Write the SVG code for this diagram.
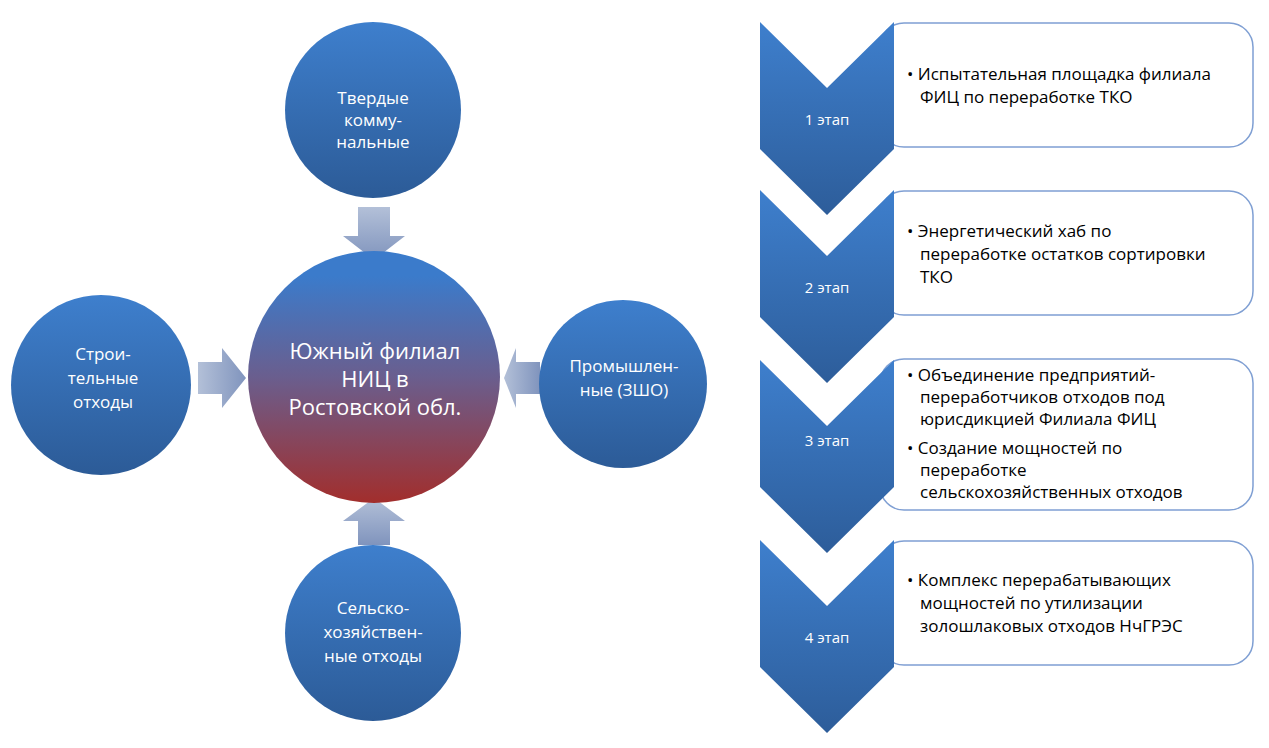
<svg xmlns="http://www.w3.org/2000/svg" width="1269" height="748" viewBox="0 0 1269 748">
<defs>
<linearGradient id="gb" x1="0" y1="0" x2="0" y2="1"><stop offset="0" stop-color="#3e7fcd"/><stop offset="1" stop-color="#2c5b97"/></linearGradient>
<linearGradient id="gc" x1="0" y1="0" x2="0" y2="1"><stop offset="0.1" stop-color="#3b7bcb"/><stop offset="0.5" stop-color="#6a5e8e"/><stop offset="1" stop-color="#a22e2c"/></linearGradient>
<linearGradient id="ga" x1="0" y1="0" x2="0" y2="1"><stop offset="0" stop-color="#b3c0d8"/><stop offset="1" stop-color="#8094bd"/></linearGradient>
<linearGradient id="gah" x1="0" y1="0" x2="1" y2="0"><stop offset="0" stop-color="#b3c0d8"/><stop offset="1" stop-color="#8094bd"/></linearGradient>
<linearGradient id="gch" x1="0" y1="0" x2="0" y2="1"><stop offset="0" stop-color="#3e7fcd"/><stop offset="1" stop-color="#2d5d9a"/></linearGradient>
</defs>
<style>
text{font-family:"Open Sans","Liberation Sans",sans-serif;}
.w{fill:#fff;font-size:17px;text-anchor:middle}
.c{fill:#fff;font-size:22px;text-anchor:middle}
.s{fill:#fff;font-size:15px;text-anchor:middle}
.b{fill:#000;font-size:17px}
.box{fill:#fff;stroke:#7f9fd3;stroke-width:1.5}
</style>
<rect width="1269" height="748" fill="#fff"/>
<g id="connectors">
<path d="M358,207 H390 V236 H405 L374,260 L343,236 H358 Z" fill="url(#ga)"/>
<path d="M358,545 H390 V521 H405 L374,498 L343,521 H358 Z" fill="url(#ga)" transform="rotate(0)"/>
<path d="M198,362 H222 V348 L246,378 L222,408 V394 H198 Z" fill="url(#gah)"/>
<path d="M540,362 H516 V348 L504,378 L516,408 V394 H540 Z" fill="url(#gah)"/>
</g>
<g id="top"><circle cx="373" cy="110" r="88" fill="url(#gb)"/><text class="w" x="373" y="104">Твердые</text><text class="w" x="373" y="126">комму-</text><text class="w" x="373" y="148">нальные</text></g>
<g id="left"><circle cx="101" cy="385" r="90" fill="url(#gb)"/><text class="w" x="103" y="360">Строи-</text><text class="w" x="103" y="384">тельные</text><text class="w" x="103" y="408">отходы</text></g>
<g id="right"><circle cx="623" cy="384" r="84" fill="url(#gb)"/><text class="w" x="624" y="372">Промышлен-</text><text class="w" x="624" y="396">ные (ЗШО)</text></g>
<g id="bottom"><circle cx="373" cy="633" r="88" fill="url(#gb)"/><text class="w" x="373" y="614">Сельско-</text><text class="w" x="373" y="638">хозяйствен-</text><text class="w" x="373" y="662">ные отходы</text></g>
<g id="center"><circle cx="374" cy="377" r="126" fill="url(#gc)"/><text class="c" x="375" y="359">Южный филиал</text><text class="c" x="375" y="387">НИЦ  в</text><text class="c" x="375" y="415">Ростовской обл.</text></g>
<g id="stage1"><rect class="box" x="880" y="23" width="373" height="124" rx="24"/><path d="M760,22 L827,88 L894,22 V149 L827,215 L760,149 Z" fill="url(#gch)"/><text class="s" x="827" y="125">1 этап</text>
<text class="b" x="907" y="80">• Испытательная площадка филиала</text><text class="b" x="920" y="103">ФИЦ по переработке ТКО</text></g>
<g id="stage2"><rect class="box" x="880" y="191" width="373" height="124" rx="24"/><path d="M760,190 L827,256 L894,190 V317 L827,383 L760,317 Z" fill="url(#gch)"/><text class="s" x="827" y="293">2 этап</text>
<text class="b" x="907" y="237">• Энергетический хаб по</text><text class="b" x="920" y="260">переработке остатков сортировки</text><text class="b" x="920" y="283">ТКО</text></g>
<g id="stage3"><rect class="box" x="880" y="359" width="373" height="151" rx="24"/><path d="M760,360 L827,426 L894,360 V487 L827,553 L760,487 Z" fill="url(#gch)"/><text class="s" x="827" y="446">3 этап</text>
<text class="b" x="907" y="381">• Объединение предприятий-</text><text class="b" x="920" y="403">переработчиков отходов под</text><text class="b" x="920" y="425">юрисдикцией Филиала ФИЦ</text>
<text class="b" x="907" y="454">• Создание мощностей по</text><text class="b" x="920" y="476">переработке</text><text class="b" x="920" y="498">сельскохозяйственных отходов</text></g>
<g id="stage4"><rect class="box" x="880" y="541" width="373" height="124" rx="24"/><path d="M760,540 L827,606 L894,540 V667 L827,733 L760,667 Z" fill="url(#gch)"/><text class="s" x="827" y="643">4 этап</text>
<text class="b" x="907" y="586">• Комплекс перерабатывающих</text><text class="b" x="920" y="609">мощностей по утилизации</text><text class="b" x="920" y="632">золошлаковых отходов НчГРЭС</text></g>
</svg>
